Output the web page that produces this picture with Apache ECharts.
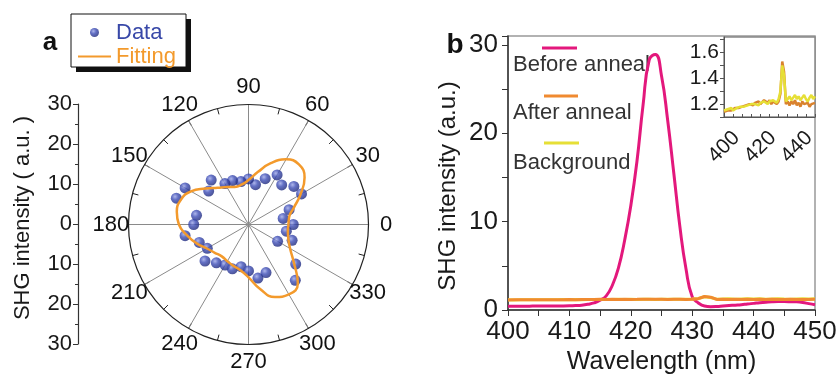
<!DOCTYPE html>
<html>
<head>
<meta charset="utf-8">
<script src="https://cdn.jsdelivr.net/npm/echarts@6/dist/echarts.min.js"></script>
<style>
  html, body { margin: 0; padding: 0; background: #fff; }
  #chart { width: 838px; height: 377px; }
</style>
</head>
<body>
<div id="chart"></div>
<script>
// panel a: polar SHG data (angle in degrees, intensity)
const dataAngles = [0, 10, 20, 30, 40, 50, 60, 70, 80, 90, 100, 110, 120, 130, 140, 150, 160, 170,
  180, 190, 200, 210, 220, 230, 240, 250, 260, 270, 280, 290, 310, 320, 330, 340, 350]
const dataValues = [11.2, 8.8, 10.8, 15.3, 14.8, 12.9, 14.3, 12.2, 10.1, 11.4, 10.9, 11.7, 11.8, 14.5, 13.0, 18.3, 19.2, 13.2,
  13.7, 16.1, 13.1, 11.9, 14.2, 12.5, 11.7, 11.8, 10.7, 11.6, 13.6, 12.8, 18.2, 15.4, 8.4, 11.6, 9.6]

const fitAngles = [0, 10, 20, 30, 40, 50, 60, 70, 80, 90, 100, 110, 120, 130, 140, 150, 160, 170, 180,
  190, 200, 210, 220, 230, 240, 250, 260, 270, 280, 290, 300, 310, 320, 330, 340, 350, 360]
const fitValues = [10.0, 10.3, 12.0, 15.0, 18.3, 19.6, 18.8, 16.3, 13.3, 11.1, 10.1, 10.0, 10.8, 12.0, 14.0, 16.6, 18.0, 18.2, 17.4,
  15.6, 13.8, 12.0, 11.0, 10.4, 10.6, 11.0, 11.6, 13.2, 16.3, 19.3, 20.2, 19.2, 14.8, 12.0, 10.6, 10.0, 10.0]

// angle tick labels of the polar plot, centred on a ring just outside the circle
const angleTickLabels = [0, 30, 60, 90, 120, 150, 180, 210, 240, 270, 300, 330]
const ANGLE_LABEL_R = 34.4

// panel b: SHG spectra
const wavelengths = [400, 401, 402, 403, 404, 405, 406, 407, 408, 409, 410, 411, 412, 413, 414, 415, 416, 417, 418, 419,
  420, 421, 422, 423, 424, 425, 426, 427, 428, 429, 430, 431, 432, 433, 434, 435, 436, 437, 438, 439,
  440, 441, 442, 443, 444, 445, 446, 447, 448, 449, 450]
const beforeAnneal = [0.42, 0.42, 0.43, 0.43, 0.44, 0.44, 0.45, 0.45, 0.46, 0.46, 0.47, 0.5, 0.55, 0.65, 0.8, 1.1, 1.6, 2.8, 4.8, 7.9,
  11.8, 16.8, 23.2, 28.3, 28.9, 26.5, 21.5, 15.5, 9.4, 4.6, 1.5, 0.8, 0.45, 0.38, 0.4, 0.45, 0.5, 0.55, 0.6, 0.68,
  0.75, 0.82, 0.88, 0.93, 0.95, 0.95, 0.94, 0.92, 0.85, 0.72, 0.6]
const afterAnneal = [1.14, 1.15, 1.15, 1.16, 1.15, 1.16, 1.17, 1.16, 1.17, 1.17, 1.18, 1.17, 1.19, 1.18, 1.2, 1.21, 1.19, 1.21, 1.2, 1.22,
  1.2, 1.21, 1.23, 1.22, 1.21, 1.23, 1.2, 1.22, 1.23, 1.2, 1.22, 1.28, 1.53, 1.45, 1.2, 1.22, 1.19, 1.22, 1.2, 1.23,
  1.19, 1.21, 1.18, 1.22, 1.2, 1.19, 1.21, 1.18, 1.2, 1.19, 1.21]
const background = [1.15, 1.14, 1.16, 1.15, 1.17, 1.15, 1.16, 1.17, 1.16, 1.18, 1.17, 1.18, 1.17, 1.19, 1.18, 1.2, 1.19, 1.2, 1.21, 1.19,
  1.21, 1.2, 1.22, 1.21, 1.2, 1.22, 1.21, 1.23, 1.22, 1.21, 1.24, 1.3, 1.5, 1.42, 1.22, 1.24, 1.26, 1.23, 1.25, 1.27,
  1.24, 1.26, 1.23, 1.25, 1.27, 1.24, 1.22, 1.25, 1.27, 1.24, 1.26]

const FONT = 'Liberation Sans, Arial, sans-serif'
const C_BEFORE = '#E3187C'
const C_AFTER = '#F08A30'
const C_BG = '#E6DF36'
const C_FIT = '#F39A2C'

const zip = (xs, ys) => xs.map((x, i) => [x, ys[i]])

const ball = {
  type: 'radial', x: 0.38, y: 0.35, r: 0.65,
  colorStops: [
    { offset: 0, color: '#9aa4e6' },
    { offset: 0.45, color: '#3d4db6' },
    { offset: 1, color: '#1f2a7e' },
  ],
}

const option = {
  animation: false,
  textStyle: { fontFamily: FONT },
  legend: {
    data: [
      { name: 'Data', icon: 'circle', textStyle: { color: '#3848a8' } },
      { name: 'Fitting', icon: 'path://M0,0 H33 V2 H0 Z', textStyle: { color: C_FIT } },
    ],
    orient: 'vertical',
    left: 78,
    top: 21,
    padding: 0,
    itemGap: 1,
    itemWidth: 33,
    itemHeight: 9,
    itemTextGap: 5,
    selectedMode: false,
    textStyle: { fontSize: 22, lineHeight: 23, fontFamily: FONT },
  },
  polar: { center: [248.5, 224.5], radius: 120 },
  angleAxis: {
    type: 'value', min: 0, max: 360, interval: 30,
    startAngle: 0, clockwise: false,
    axisLine: { lineStyle: { color: '#222', width: 1.2 } },
    axisTick: { show: true, inside: true, length: 6, lineStyle: { color: '#222' } },
    minorTick: { show: true, splitNumber: 2, length: 6, lineStyle: { color: '#222' } },
    splitLine: { show: true, lineStyle: { color: '#8a8a8a', width: 1 } },
    axisLabel: { show: false },
  },
  radiusAxis: {
    min: 0, max: 30, show: false,
    splitLine: { show: false }, axisLine: { show: false }, axisTick: { show: false }, axisLabel: { show: false },
  },
  grid: [
    { left: 78, top: 104, width: 1, height: 240, outerBoundsMode: 'none' },
    { left: 508, top: 36, right: 23, bottom: 67, show: true, borderColor: '#999', borderWidth: 1.5, outerBoundsMode: 'none' },
    { left: 724, top: 37, width: 91, height: 80, show: true, borderColor: '#888', borderWidth: 1.5, backgroundColor: '#fff', outerBoundsMode: 'none' },
  ],
  xAxis: [
    { gridIndex: 0, type: 'value', min: 0, max: 1, show: false },
    {
      gridIndex: 1, type: 'value', min: 400, max: 450, interval: 10,
      axisLine: { lineStyle: { color: '#333', width: 1.5 } },
      axisTick: { length: 6, lineStyle: { color: '#333' } },
      minorTick: { show: true, splitNumber: 2, length: 6, lineStyle: { color: '#333' } },
      splitLine: { show: false },
      axisLabel: { fontSize: 26, color: '#1a1a1a', margin: 9 },
      name: 'Wavelength (nm)', nameLocation: 'middle', nameGap: 36,
      nameTextStyle: { fontSize: 25, color: '#1a1a1a' },
    },
    {
      gridIndex: 2, type: 'value', min: 400, max: 450, interval: 5,
      axisLine: { lineStyle: { color: '#555' } },
      axisTick: { inside: true, length: 3, lineStyle: { color: '#555' } },
      splitLine: { show: false },
      axisLabel: {
        fontSize: 21, color: '#1a1a1a', rotate: 45, align: 'center', verticalAlign: 'middle', margin: 30,
        formatter: (v) => (v % 20 === 0 && v < 450 ? v : ''),
      },
    },
  ],
  yAxis: [
    {
      gridIndex: 0, type: 'value', min: -30, max: 30, interval: 10,
      axisLine: { show: true, lineStyle: { color: '#333', width: 1.2 } },
      axisTick: { show: true, length: 5, lineStyle: { color: '#333' } },
      minorTick: { show: true, splitNumber: 2, length: 3, lineStyle: { color: '#333' } },
      splitLine: { show: false },
      axisLabel: { fontSize: 22, color: '#1a1a1a', margin: 6, formatter: (v) => Math.abs(v) },
      name: 'SHG intensity ( a.u. )', nameLocation: 'middle', nameGap: 44,
      nameTextStyle: { fontSize: 22, color: '#1a1a1a', padding: [0, 0, 0, 12] },
    },
    {
      gridIndex: 1, type: 'value', min: 0, max: 31, interval: 10,
      axisLine: { show: true, lineStyle: { color: '#333', width: 1.5 } },
      axisTick: { show: true, length: 6, lineStyle: { color: '#333' } },
      minorTick: { show: true, splitNumber: 2, length: 6, lineStyle: { color: '#333' } },
      splitLine: { show: false },
      axisLabel: { fontSize: 26, color: '#1a1a1a', margin: 10, showMaxLabel: false },
    },
    {
      gridIndex: 2, type: 'value', min: 1.1, max: 1.72, interval: 0.1,
      axisLine: { show: true, lineStyle: { color: '#555' } },
      axisTick: { show: true, length: 4, lineStyle: { color: '#555' } },
      splitLine: { show: false },
      axisLabel: {
        fontSize: 21, color: '#1a1a1a', margin: 5, showMaxLabel: false,
        formatter: (v) => { const k = Math.round(v * 10); return k % 2 === 0 && k >= 12 && k <= 16 ? (k / 10).toFixed(1) : '' },
      },
    },
  ],
  series: [
    {
      name: 'angle labels', type: 'scatter', coordinateSystem: 'polar', silent: true, clip: false,
      data: angleTickLabels.map((a) => [ANGLE_LABEL_R, a]),
      symbolSize: 1, itemStyle: { color: 'rgba(0,0,0,0)' },
      label: {
        show: true, position: 'inside', fontSize: 22, color: '#111', fontFamily: FONT,
        textBorderWidth: 0, textBorderColor: 'transparent', opacity: 1,
        formatter: (p) => String(p.value[1]),
      },
      labelLayout: { hideOverlap: false },
    },
    {
      name: 'Data', type: 'scatter', coordinateSystem: 'polar',
      data: zip(dataValues, dataAngles),
      symbolSize: 11,
      itemStyle: { color: ball },
    },
    {
      name: 'Fitting', type: 'line', coordinateSystem: 'polar',
      data: zip(fitValues, fitAngles),
      smooth: true, symbol: 'none',
      lineStyle: { color: C_FIT, width: 2.5 },
      itemStyle: { color: C_FIT },
    },
    {
      name: 'Before anneal', type: 'line', xAxisIndex: 1, yAxisIndex: 1,
      data: zip(wavelengths, beforeAnneal), smooth: true, symbol: 'none',
      lineStyle: { color: C_BEFORE, width: 3 }, itemStyle: { color: C_BEFORE },
    },
    {
      name: 'Background', type: 'line', xAxisIndex: 1, yAxisIndex: 1,
      data: zip(wavelengths, background), symbol: 'none',
      lineStyle: { color: C_BG, width: 3 }, itemStyle: { color: C_BG },
    },
    {
      name: 'After anneal', type: 'line', xAxisIndex: 1, yAxisIndex: 1,
      data: zip(wavelengths, afterAnneal), symbol: 'none',
      lineStyle: { color: C_AFTER, width: 3 }, itemStyle: { color: C_AFTER },
    },
    {
      name: 'After anneal inset', type: 'line', xAxisIndex: 2, yAxisIndex: 2,
      data: zip(wavelengths, afterAnneal), symbol: 'none',
      lineStyle: { color: '#D9822E', width: 2.5 },
    },
    {
      name: 'Background inset', type: 'line', xAxisIndex: 2, yAxisIndex: 2,
      data: zip(wavelengths, background), symbol: 'none',
      lineStyle: { color: C_BG, width: 2.5 },
    },
  ],
  graphic: [
    // legend frame of panel a with drop shadow
    { type: 'rect', z: 0, shape: { x: 76, y: 19, width: 115, height: 53 }, style: { fill: '#111' } },
    { type: 'rect', z: 1, shape: { x: 71, y: 14, width: 115, height: 53 }, style: { fill: '#fff', stroke: '#111', lineWidth: 1 } },
    { type: 'text', x: 50, y: 43, style: { text: 'a', font: 'bold 26px ' + FONT, fill: '#111', align: 'center', verticalAlign: 'middle' } },
    { type: 'text', x: 455, y: 45, style: { text: 'b', font: 'bold 28px ' + FONT, fill: '#111', align: 'center', verticalAlign: 'middle' } },
    // y title of panel b
    { type: 'text', x: 448, y: 186, rotation: Math.PI / 2, style: { text: 'SHG intensity (a.u.)', font: '24px ' + FONT, fill: '#1a1a1a', align: 'center', verticalAlign: 'middle' } },
    // legend of panel b: sample line above each label
    { type: 'line', shape: { x1: 542, y1: 48, x2: 577, y2: 48 }, style: { stroke: C_BEFORE, lineWidth: 3 } },
    { type: 'text', x: 513, y: 65, style: { text: 'Before anneal', font: '22px ' + FONT, fill: '#333', verticalAlign: 'middle' } },
    { type: 'line', shape: { x1: 544, y1: 96, x2: 578, y2: 96 }, style: { stroke: C_AFTER, lineWidth: 3 } },
    { type: 'text', x: 513, y: 113, style: { text: 'After anneal', font: '22px ' + FONT, fill: '#333', verticalAlign: 'middle' } },
    { type: 'line', shape: { x1: 544, y1: 143, x2: 579, y2: 143 }, style: { stroke: C_BG, lineWidth: 3 } },
    { type: 'text', x: 513, y: 163, style: { text: 'Background', font: '22px ' + FONT, fill: '#333', verticalAlign: 'middle' } },
  ],
}

const chart = echarts.init(document.getElementById('chart'))
chart.setOption(option)
window.addEventListener('resize', () => chart.resize())
</script>
</body>
</html>
